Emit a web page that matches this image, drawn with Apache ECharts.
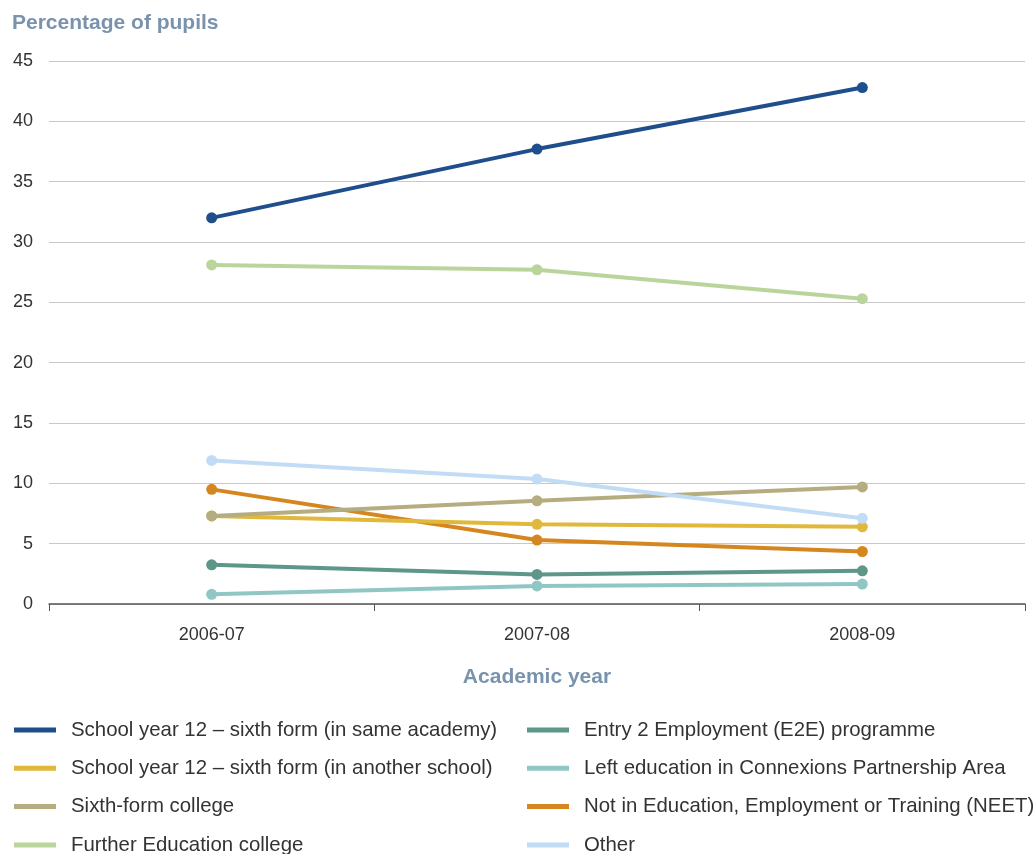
<!DOCTYPE html>
<html>
<head>
<meta charset="utf-8">
<script src="https://cdn.jsdelivr.net/npm/echarts@6/dist/echarts.min.js"></script>
<style>
  html, body { margin: 0; padding: 0; background: #fff; }
  #chart { width: 1035px; height: 854px; }
</style>
</head>
<body>
<div id="chart"></div>
<script>
// Academic years on the x axis
const years = ['2006-07', '2007-08', '2008-09'];

// Destination shares (% of pupils) per year
const sameAcademy = [32.0, 37.7, 42.8];
const anotherSchool = [7.3, 6.6, 6.4];
const sixthFormCollege = [7.3, 8.55, 9.7];
const feCollege = [28.1, 27.7, 25.3];
const e2e = [3.25, 2.45, 2.75];
const leftEducation = [0.8, 1.5, 1.65];
const neet = [9.5, 5.3, 4.35];
const other = [11.9, 10.35, 7.1];

const yTicks = [0, 5, 10, 15, 20, 25, 30, 35, 40, 45];

const seriesDefs = [
  { name: 'School year 12 \u2013 sixth form (in same academy)', data: sameAcademy, color: '#1f4e8c' },
  { name: 'School year 12 \u2013 sixth form (in another school)', data: anotherSchool, color: '#e0b93c' },
  { name: 'Sixth-form college', data: sixthFormCollege, color: '#b5ad7f' },
  { name: 'Further Education college', data: feCollege, color: '#bad59c' },
  { name: 'Entry 2 Employment (E2E) programme', data: e2e, color: '#5e968a' },
  { name: 'Left education in Connexions Partnership Area', data: leftEducation, color: '#90c7c5' },
  { name: 'Not in Education, Employment or Training (NEET)', data: neet, color: '#d6861e' },
  { name: 'Other', data: other, color: '#c2dcf5' }
];

// Draw order: background lines first so the main line sits on top
const drawOrder = [5, 4, 6, 1, 2, 7, 3, 0];

const font = 'Liberation Sans, Arial, sans-serif';
const legendText = { fontFamily: font, fontSize: 20.4, color: '#333', lineHeight: 22, padding: [0, 0, 0, 10] };

function legendBlock(names, left) {
  return {
    orient: 'vertical',
    left: left,
    top: 719,
    height: 200,
    padding: 0,
    icon: 'rect',
    itemWidth: 42,
    itemHeight: 5,
    itemGap: 16.3,
    textStyle: legendText,
    selectedMode: false,
    data: names
  };
}

const chart = echarts.init(document.getElementById('chart'), null, { renderer: 'canvas' });
chart.setOption({
  animation: false,
  backgroundColor: '#fff',
  title: {
    text: 'Percentage of pupils',
    left: 7,
    top: 8,
    textStyle: { fontFamily: font, fontSize: 21, fontWeight: 'bold', color: '#7a93ad' }
  },
  legend: [
    legendBlock(seriesDefs.slice(0, 4).map(s => s.name), 14),
    legendBlock(seriesDefs.slice(4).map(s => s.name), 527)
  ],
  grid: { left: 49, right: 10, top: 61, bottom: 250, containLabel: false },
  xAxis: {
    type: 'category',
    data: years,
    boundaryGap: true,
    axisLine: { lineStyle: { color: '#555', width: 1.5 } },
    axisTick: { show: true, length: 7, lineStyle: { color: '#555' } },
    axisLabel: { fontFamily: font, fontSize: 18, color: '#333', margin: 22 },
    name: 'Academic year',
    nameLocation: 'middle',
    nameGap: 63,
    nameTextStyle: { fontFamily: font, fontSize: 21, fontWeight: 'bold', color: '#7a93ad' }
  },
  yAxis: {
    type: 'value',
    min: yTicks[0],
    max: yTicks[yTicks.length - 1],
    interval: 5,
    axisLine: { show: false },
    axisTick: { show: false },
    axisLabel: { fontFamily: font, fontSize: 18, color: '#333', margin: 16 },
    splitLine: { lineStyle: { color: '#c8c8c8', width: 1.2 } }
  },
  series: drawOrder.map(i => {
    const s = seriesDefs[i];
    return {
      name: s.name,
      type: 'line',
      data: s.data,
      color: s.color,
      symbol: 'circle',
      symbolSize: 11,
      lineStyle: { width: 4, color: s.color },
      itemStyle: { color: s.color },
      z: 2 + drawOrder.indexOf(i)
    };
  })
});
</script>
</body>
</html>
